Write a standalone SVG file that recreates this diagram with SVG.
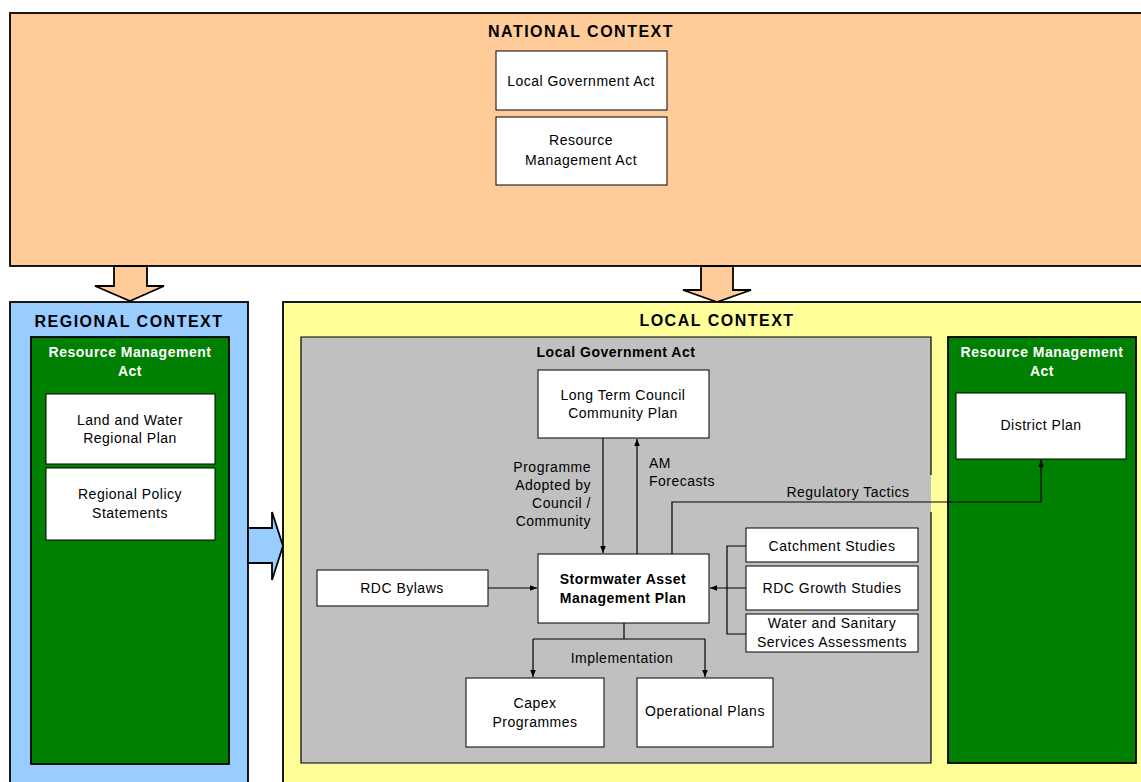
<svg xmlns="http://www.w3.org/2000/svg" width="1141" height="782" viewBox="0 0 1141 782">
<defs>
<marker id="ah" viewBox="0 0 10 10" refX="10" refY="5" markerWidth="7" markerHeight="7" orient="auto" markerUnits="userSpaceOnUse">
<path d="M0,1 L10,5 L0,9 z" fill="#000"/>
</marker>
<style>
text{font-family:"Liberation Sans",Arial,sans-serif;font-size:14px;fill:#000;text-anchor:middle;letter-spacing:0.5px}
.t{font-weight:bold;font-size:16px;letter-spacing:1.5px}
.b{font-weight:bold}
.w{fill:#fff;font-weight:bold}
.r{text-anchor:end}
.s{text-anchor:start}
.box{fill:#fff;stroke:#000;stroke-width:1}
.big{stroke:#000;stroke-width:1.8}
.ln{fill:none;stroke:#000;stroke-width:1.2}
.arr{stroke:#000;stroke-width:1.8}
</style>
</defs>
<rect width="1141" height="782" fill="#fff"/>
<g id="national">
<rect class="big" x="10" y="13" width="1140" height="253" fill="#FFCC99"/>
<text class="t" x="581" y="37">NATIONAL CONTEXT</text>
</g>
<g id="nat-lga"><rect class="box" x="496" y="51" width="171" height="59"/><text x="581" y="86">Local Government Act</text></g>
<g id="nat-rma"><rect class="box" x="496" y="117" width="171" height="68"/><text x="581" y="145">Resource</text><text x="581" y="165">Management Act</text></g>
<g id="arrow-left"><path class="arr" fill="#FFCC99" d="M114,266 L147,266 L147,286 L164,286 L130,301 L95,286 L114,286 z"/></g>
<g id="arrow-mid"><path class="arr" fill="#FFCC99" d="M701,266 L733,266 L733,290 L751,290 L717,302 L683,290 L701,290 z"/></g>
<g id="regional">
<rect class="big" x="10" y="302" width="238" height="500" fill="#99CCFF"/>
<text class="t" x="129" y="327">REGIONAL CONTEXT</text>
</g>
<g id="reg-rma">
<rect class="big" x="31" y="337" width="198" height="427" fill="#008000"/>
<text class="w" x="130" y="357">Resource Management</text><text class="w" x="130" y="376">Act</text>
</g>
<g id="reg-lwrp"><rect class="box" x="46" y="394" width="169" height="70"/><text x="130" y="425">Land and Water</text><text x="130" y="443">Regional Plan</text></g>
<g id="reg-rps"><rect class="box" x="46" y="468" width="169" height="72"/><text x="130" y="499">Regional Policy</text><text x="130" y="518">Statements</text></g>
<g id="arrow-blue"><path class="arr" fill="#99CCFF" d="M248,528 L272,528 L272,512 L283,546 L272,580 L272,563 L248,563 z"/></g>
<g id="local">
<rect class="big" x="283" y="302" width="870" height="500" fill="#FFFF99"/>
<text class="t" x="717" y="326">LOCAL CONTEXT</text>
</g>
<g id="loc-lga">
<rect x="301" y="337" width="630" height="426" fill="#C0C0C0"/>
<path class="ln" stroke-width="1.8" d="M931,475 L931,337 L301,337 L301,763 L931,763 L931,512"/>
<text class="b" x="616" y="357">Local Government Act</text>
</g>
<g id="loc-rma">
<rect class="big" x="948" y="337" width="188" height="426" fill="#008000"/>
<text class="w" x="1042" y="357">Resource Management</text><text class="w" x="1042" y="376">Act</text>
</g>
<g id="district"><rect class="box" x="956" y="393" width="170" height="66"/><text x="1041" y="430">District Plan</text></g>
<g id="ltccp"><rect class="box" x="538" y="370" width="171" height="68"/><text x="623" y="400">Long Term Council</text><text x="623" y="418">Community Plan</text></g>
<g id="samp"><rect class="box" stroke-width="2" x="538" y="554" width="171" height="69"/><text class="b" x="623" y="584">Stormwater Asset</text><text class="b" x="623" y="603">Management Plan</text></g>
<g id="bylaws"><rect class="box" x="317" y="570" width="171" height="36"/><text x="402" y="593">RDC Bylaws</text></g>
<g id="catch"><rect class="box" x="746" y="528" width="172" height="34"/><text x="832" y="551">Catchment Studies</text></g>
<g id="growth"><rect class="box" x="746" y="566" width="172" height="44"/><text x="832" y="593">RDC Growth Studies</text></g>
<g id="water"><rect class="box" x="746" y="614" width="172" height="38"/><text x="832" y="628">Water and Sanitary</text><text x="832" y="647">Services Assessments</text></g>
<g id="capex"><rect class="box" x="466" y="678" width="138" height="69"/><text x="535" y="708">Capex</text><text x="535" y="727">Programmes</text></g>
<g id="oper"><rect class="box" x="637" y="678" width="136" height="69"/><text x="705" y="716">Operational Plans</text></g>
<g id="connectors">
<path class="ln" marker-end="url(#ah)" d="M603,438 L603,553"/>
<path class="ln" marker-end="url(#ah)" d="M637,554 L637,439"/>
<path class="ln" marker-end="url(#ah)" d="M672,554 L672,502 L1041,502 L1041,460"/>
<path class="ln" marker-end="url(#ah)" d="M488,588 L537,588"/>
<path class="ln" d="M746,546 L727,546 L727,634 L746,634"/>
<path class="ln" marker-end="url(#ah)" d="M746,588 L710,588"/>
<path class="ln" d="M624,623 L624,639"/>
<path class="ln" marker-end="url(#ah)" d="M533,639 L705,639 M533,639 L533,677"/>
<path class="ln" marker-end="url(#ah)" d="M705,639 L705,677"/>
<text class="r" x="591" y="472">Programme</text>
<text class="r" x="591" y="490">Adopted by</text>
<text class="r" x="591" y="508">Council /</text>
<text class="r" x="591" y="526">Community</text>
<text class="s" x="649" y="468">AM</text>
<text class="s" x="649" y="486">Forecasts</text>
<text x="848" y="497">Regulatory Tactics</text>
<text x="622" y="663">Implementation</text>
</g>
</svg>
